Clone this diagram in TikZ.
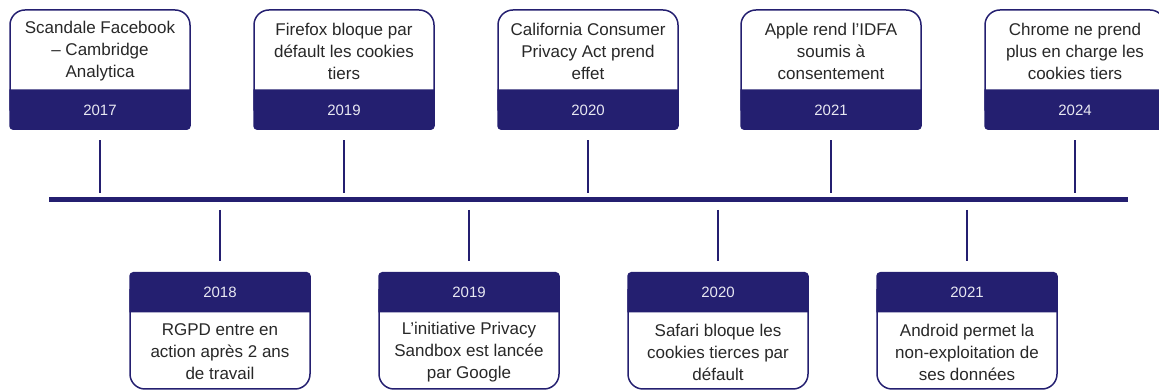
\documentclass[tikz,border=0pt]{standalone}
\usepackage{fontspec}
\setmainfont{Liberation Sans}
\definecolor{navy}{RGB}{36,31,112}
\definecolor{ink}{RGB}{40,40,40}
\definecolor{yr}{RGB}{232,232,242}
\tikzset{
 evtext/.style={text=ink, align=center, font=\fontsize{17}{22}\selectfont, inner sep=0pt},
 yeartext/.style={text=yr, font=\fontsize{15}{18}\selectfont, inner sep=0pt},
 boxframe/.style={draw=navy, line width=1.5pt, fill=white},
 bandfill/.style={fill=navy},
 stem/.style={draw=navy, line width=2.5pt},
 axisline/.style={draw=navy, line width=5pt},
 boxarea/.style={minimum width=180pt, minimum height=120pt, inner sep=0pt, draw=none},
}
\begin{document}
\begin{tikzpicture}[x=1pt,y=1pt]
\useasboundingbox (0,0) rectangle (1159,390);
\clip (0,0) rectangle (1159,390);
\coordinate (axL) at (49,190);
\coordinate (axR) at (1128,190);
\draw[axisline] (axL) -- (axR);
% top events
\foreach \cx/\nm/\yy/\txt in {
 100/a1/2017/{Scandale Facebook\\– Cambridge\\Analytica},
 344/a2/2019/{Firefox bloque par\\défault les cookies\\tiers},
 588/a3/2020/{California Consumer\\Privacy Act prend\\effet},
 831/a4/2021/{Apple rend l’IDFA\\soumis à\\consentement},
 1075/a5/2024/{Chrome ne prend\\plus en charge les\\cookies tiers}}{
 \draw[boxframe] (\cx-90,280) -- (\cx-90,365)
   arc[start angle=180, end angle=90, radius=15] -- (\cx+75,380)
   arc[start angle=90, end angle=0, radius=15] -- (\cx+90,280) -- cycle;
 \fill[bandfill] (\cx-90.75,300.5) -- (\cx-90.75,264)
   arc[start angle=180, end angle=270, radius=4] -- (\cx+86.75,260)
   arc[start angle=270, end angle=360, radius=4] -- (\cx+90.75,300.5) -- cycle;
 \node[boxarea] (\nm) at (\cx,320) {};
 \node[evtext] (\nm t) at (\cx,339) {\txt};
 \node[yeartext] (\nm y) at (\cx,280) {\yy};
 \draw[stem, shorten <=10pt, shorten >=7pt] (\nm.south) -- (\nm.south |- axL);
}
% bottom events
\foreach \cx/\nm/\yy/\txt in {
 220/b1/2018/{RGPD entre en\\action après 2 ans\\de travail},
 469/b2/2019/{L’initiative Privacy\\Sandbox est lancée\\par Google},
 718/b3/2020/{Safari bloque les\\cookies tierces par\\défault},
 967/b4/2021/{Android permet la\\non-exploitation de\\ses données}}{
 \draw[boxframe] (\cx-90,100) -- (\cx-90,16)
   arc[start angle=180, end angle=270, radius=15] -- (\cx+75,1)
   arc[start angle=270, end angle=360, radius=15] -- (\cx+90,100) -- cycle;
 \fill[bandfill] (\cx-90.75,77.5) -- (\cx-90.75,114)
   arc[start angle=180, end angle=90, radius=4] -- (\cx+86.75,118)
   arc[start angle=90, end angle=0, radius=4] -- (\cx+90.75,77.5) -- cycle;
 \node[boxarea] (\nm) at (\cx,59) {};
 \node[evtext] (\nm t) at (\cx,38) {\txt};
 \node[yeartext] (\nm y) at (\cx,98) {\yy};
 \draw[stem, shorten <=10pt, shorten >=10pt] (\nm.north |- axL) -- (\nm.north);
}
\end{tikzpicture}
\end{document}
